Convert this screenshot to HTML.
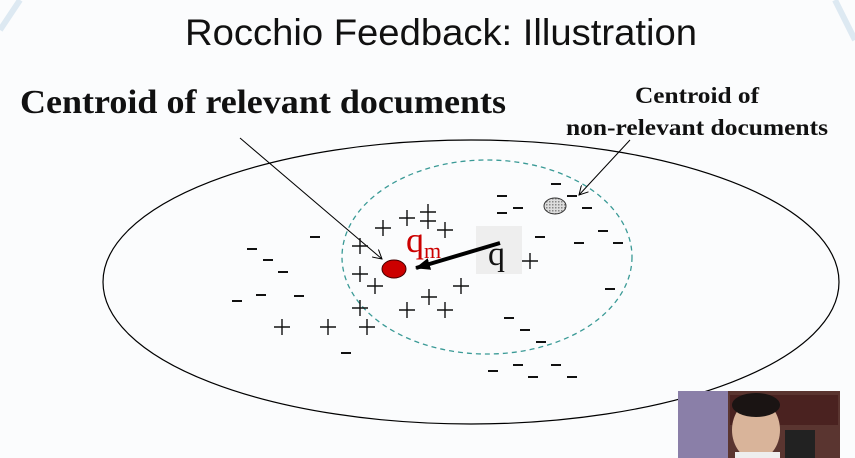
<!DOCTYPE html>
<html><head><meta charset="utf-8"><style>
html,body{margin:0;padding:0;background:#fafbfc;}
svg{display:block}
</style></head><body>
<svg width="855" height="458" viewBox="0 0 855 458" xmlns="http://www.w3.org/2000/svg">
<defs>
<pattern id="hatch" width="3" height="3" patternUnits="userSpaceOnUse">
<rect width="3" height="3" fill="#ddd"/><rect width="1.5" height="1.5" fill="#888"/>
</pattern>
<marker id="ah" markerWidth="10" markerHeight="10" refX="9" refY="5" orient="auto" markerUnits="userSpaceOnUse">
<path d="M0,0 L9,5 L0,10" fill="none" stroke="#000" stroke-width="1"/>
</marker>
<marker id="ahb" markerWidth="16" markerHeight="12" refX="14" refY="6" orient="auto" markerUnits="userSpaceOnUse">
<path d="M0,0 L15,6 L0,12 Z" fill="#000"/>
</marker>
</defs>
<rect width="855" height="458" fill="#fbfcfd"/>
<path d="M0,30 L20,0 M835,0 L855,40" stroke="#dde9f2" stroke-width="6"/>
<text x="185" y="45" font-family="Liberation Sans, sans-serif" font-size="37" textLength="512" lengthAdjust="spacingAndGlyphs" fill="#111">Rocchio Feedback: Illustration</text>
<text x="20" y="113" font-family="Liberation Serif, serif" font-weight="bold" font-size="34" textLength="486" lengthAdjust="spacingAndGlyphs" fill="#111">Centroid of relevant documents</text>
<text x="635" y="103" font-family="Liberation Serif, serif" font-weight="bold" font-size="23" textLength="124" lengthAdjust="spacingAndGlyphs" fill="#111">Centroid of</text>
<text x="566" y="135" font-family="Liberation Serif, serif" font-weight="bold" font-size="23" textLength="262" lengthAdjust="spacingAndGlyphs" fill="#111">non-relevant documents</text>
<ellipse cx="471" cy="282" rx="368" ry="142" fill="none" stroke="#000" stroke-width="1.2"/>
<ellipse cx="487" cy="257" rx="145" ry="97" fill="none" stroke="#3a9a96" stroke-width="1.3" stroke-dasharray="5,4"/>
<line x1="240" y1="138" x2="382" y2="259" stroke="#000" stroke-width="1" marker-end="url(#ah)"/>
<line x1="630" y1="140" x2="579" y2="195" stroke="#000" stroke-width="1" marker-end="url(#ah)"/>
<rect x="476" y="226" width="46" height="48" fill="#eeeeee"/>
<g stroke="#111" stroke-width="1.4" fill="none">
<path d="M375,228h16M383,220v16 M399,218h16M407,210v16 M420,212h16M428,204v16 M420,221h16M428,213v16 M437,230h16M445,222v16
M352,246h16M360,238v16 M352,274h16M360,266v16 M367,286h16M375,278v16 M453,286h16M461,278v16 M421,297h16M429,289v16
M352,308h16M360,300v16 M399,310h16M407,302v16 M437,310h16M445,302v16 M274,327h16M282,319v16 M320,327h16M328,319v16
M359,327h16M367,319v16 M522,261h16M530,253v16"/>
</g>
<g stroke="#111" stroke-width="2">
<path d="M551,184h10M497,196h10M497,213h10M513,208h10M567,196h10M582,208h10M535,237h10M598,231h10M574,243h10M613,243h10M605,289h10M310,237h10M247,249h10M263,260h10M278,272h10M232,301h10M256,295h10M294,296h10M341,353h10M504,318h10M520,330h10M536,342h10M488,371h10M513,365h10M528,377h10M551,365h10M567,377h10"/>
</g>
<ellipse cx="555" cy="206" rx="11" ry="8" fill="url(#hatch)" stroke="#333" stroke-width="1"/>
<ellipse cx="394" cy="269" rx="12" ry="9" fill="#cc0000" stroke="#400" stroke-width="1"/>
<line x1="500" y1="243" x2="416" y2="268" stroke="#000" stroke-width="4" marker-end="url(#ahb)"/>
<text x="406" y="252" font-family="Liberation Serif, serif" font-size="36" fill="#cc0000">q<tspan font-size="22" dy="6">m</tspan></text>
<text x="488" y="265" font-family="Liberation Serif, serif" font-size="34" fill="#111">q</text>
<g>
<rect x="678" y="391" width="162" height="67" fill="#5a3530"/>
<rect x="678" y="391" width="50" height="67" fill="#8a7fa8"/>
<rect x="730" y="395" width="108" height="30" fill="#4a2220"/>
<rect x="785" y="430" width="30" height="28" fill="#222"/>
<ellipse cx="756" cy="430" rx="24" ry="30" fill="#d9b49a"/>
<ellipse cx="756" cy="405" rx="24" ry="12" fill="#1a1413"/>
<rect x="735" y="452" width="45" height="6" fill="#eee"/>
</g>
</svg>
</body></html>
